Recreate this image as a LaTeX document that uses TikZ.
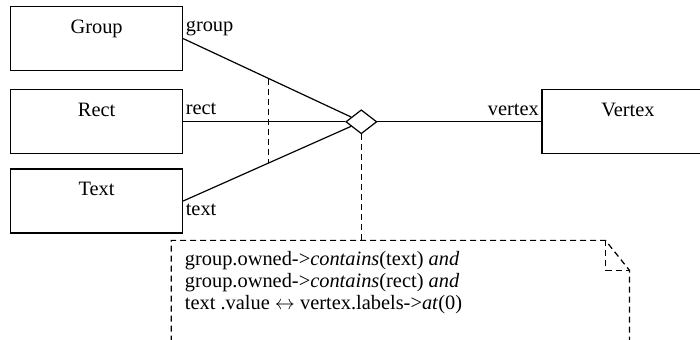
\documentclass[tikz,border=0pt]{standalone}
\usepackage{fontspec}
\setmainfont{Liberation Serif}
\usetikzlibrary{positioning,shapes.geometric,calc}

\begin{document}
\begin{tikzpicture}[
        font=\fontsize{10.2}{11}\selectfont,
        line width=0.6pt,
        cls/.style={rectangle, draw, minimum width=86pt, inner xsep=2pt, inner ysep=3pt, text height=10.5pt, text depth=15.5pt},
        assoc/.style={diamond, draw, fill=white, minimum width=15.5pt, minimum height=12pt, inner sep=0pt},
        role/.style={inner sep=1pt},
        dashln/.style={dash pattern=on 3pt off 2pt},
        notebox/.style={rectangle, minimum width=228.5pt, minimum height=80pt, inner sep=0pt},
        notetext/.style={align=left, inner sep=0pt}
    ]
        \useasboundingbox (0,0) rectangle (350pt,-170pt);
        \clip (0,0) rectangle (350pt,-170pt);
        % Classes
        \node[cls, anchor=north west] (grp) at (5pt,-3pt) {Group};
        \node[cls, below=9pt of grp] (rct) {Rect};
        \node[cls, below=7pt of rct] (txt) {Text};
        \node[assoc, right=81pt of rct] (dia) {};
        \node[cls, right=82pt of dia] (vtx) {Vertex};
        % Association ends
        \draw (grp.east) -- (dia);
        \draw (rct.east) -- (dia);
        \draw (txt.east) -- (dia);
        \draw (dia) -- (vtx);
        % Role names
        \node[role, above right=0pt of grp.east] (lgrp) {group};
        \node[role, above right=2pt and 0pt of rct.east] (lrct) {rect};
        \node[role, below right=0pt of txt.east] (ltxt) {text};
        \node[role, above left=1.5pt and 0pt of vtx.west] (lvtx) {vertex};
        % Constraint between group and text ends
        \coordinate (jg) at ($(grp.east)!0.48!(dia.center)$);
        \coordinate (jt) at ($(txt.east)!0.48!(dia.center)$);
        \draw[dashln] (jg) -- (jt);
        % Note
        \node[notebox, below right=53pt and -95pt of dia.south] (note) {};
        \coordinate (ntop) at (dia.south |- note.north);
        \draw[dashln] (dia) -- (ntop);
        \draw[dashln] (note.south west) -- (note.north west) -- ([xshift=-12pt]note.north east)
            -- ([yshift=-15pt]note.north east) -- (note.south east);
        \draw[dashln] ([xshift=-12pt]note.north east) |- ([yshift=-15pt]note.north east);
        \node[notetext, below right=5pt and 6.5pt of note.north west] (cond) {group.owned->\textit{contains}(text) \textit{and}\\
            group.owned->\textit{contains}(rect) \textit{and}\\
            text .value $\leftrightarrow$ vertex.labels->\textit{at}(0)};
    \end{tikzpicture}
\end{document}
